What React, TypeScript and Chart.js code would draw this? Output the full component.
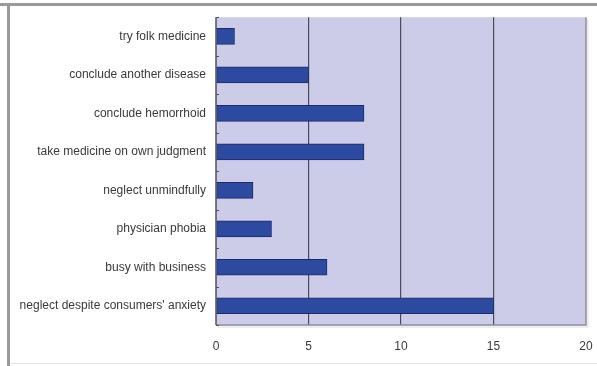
import React, { useEffect, useRef } from "react";
import { Chart, registerables } from "chart.js";

Chart.register(...registerables);

const reasons = [
  "try folk medicine",
  "conclude another disease",
  "conclude hemorrhoid",
  "take medicine on own judgment",
  "neglect unmindfully",
  "physician phobia",
  "busy with business",
  "neglect despite consumers' anxiety",
];
const counts = [1, 5, 8, 8, 2, 3, 6, 15];
const xTicks = [0, 5, 10, 15, 20];

const FONT = "'Liberation Sans', Arial, sans-serif";

// Draws the outer frame, the lavender plot panel with its shadowed edges,
// and small category tick marks along the value axis.
const framePlugin = {
  id: "frame",
  beforeDraw(chart: any) {
    const { ctx, chartArea: a, width, height } = chart;
    ctx.save();
    ctx.fillStyle = "#ffffff";
    ctx.fillRect(0, 0, width, height);
    // outer frame
    ctx.fillStyle = "#9a9a9a";
    ctx.fillRect(0, 3, width, 3);
    ctx.fillRect(7, 3, 3, height - 3);
    ctx.fillStyle = "#e2e2e2";
    ctx.fillRect(10, height - 3, width - 10, 1);
    // plot panel
    ctx.fillStyle = "#ccccE8";
    ctx.fillRect(a.left, a.top, a.right - a.left, a.bottom - a.top);
    ctx.restore();
  },
  afterDatasetsDraw(chart: any) {
    const { ctx, chartArea: a, scales } = chart;
    ctx.save();
    // shadowed right/bottom edges of the panel
    ctx.strokeStyle = "#8c8c9c";
    ctx.lineWidth = 1.5;
    ctx.beginPath();
    ctx.moveTo(a.right, a.top);
    ctx.lineTo(a.right, a.bottom);
    ctx.lineTo(a.left, a.bottom);
    ctx.stroke();
    ctx.strokeStyle = "#dcdce4";
    ctx.lineWidth = 1;
    ctx.beginPath();
    ctx.moveTo(a.right + 2, a.top + 2);
    ctx.lineTo(a.right + 2, a.bottom + 2);
    ctx.lineTo(a.left + 2, a.bottom + 2);
    ctx.stroke();
    // value axis line
    ctx.strokeStyle = "#505060";
    ctx.lineWidth = 1.5;
    ctx.beginPath();
    ctx.moveTo(a.left, a.top);
    ctx.lineTo(a.left, a.bottom);
    ctx.stroke();
    // category boundary ticks
    const y = scales.y;
    ctx.lineWidth = 1;
    for (let i = 0; i <= reasons.length; i++) {
      const py = Math.round(y.getPixelForValue(i - 0.5)) + 0.5;
      ctx.beginPath();
      ctx.moveTo(a.left, py);
      ctx.lineTo(a.left + 3, py);
      ctx.stroke();
    }
    ctx.restore();
  },
};

export default function App() {
  const ref = useRef<HTMLCanvasElement>(null);

  useEffect(() => {
    document.body.style.margin = "0";
    const chart = new Chart(ref.current as HTMLCanvasElement, {
      type: "bar",
      data: {
        labels: reasons,
        datasets: [
          {
            data: counts,
            backgroundColor: "#2c4ba0",
            borderColor: "#1a2a6a",
            borderWidth: 1,
            borderSkipped: false,
            barThickness: 16,
          },
        ],
      },
      options: {
        indexAxis: "y",
        animation: false,
        responsive: false,
        devicePixelRatio: 1,
        layout: { padding: { left: 0, right: 11, top: 15, bottom: 0 } },
        plugins: {
          legend: { display: false },
          tooltip: { enabled: false },
        },
        scales: {
          x: {
            min: 0,
            max: 20,
            afterBuildTicks(scale: any) {
              scale.ticks = xTicks.map((v) => ({ value: v }));
            },
            afterFit(scale: any) {
              scale.height = 41;
            },
            grid: {
              color: (c: any) =>
                c.tick && (c.tick.value === 0 || c.tick.value === 20)
                  ? "rgba(0,0,0,0)"
                  : "#4a4a5a",
              lineWidth: 1.2,
              drawTicks: true,
              tickLength: 14,
              tickColor: "rgba(0,0,0,0)",
            },
            border: { display: false },
            ticks: {
              padding: 0,
              color: "#3a3a3a",
              font: { family: FONT, size: 12 },
            },
          },
          y: {
            afterFit(scale: any) {
              scale.width = 216;
            },
            grid: { display: false, drawTicks: false },
            border: { display: false },
            ticks: {
              padding: 10,
              color: "#3a3a3a",
              font: { family: FONT, size: 12 },
            },
          },
        },
      },
      plugins: [framePlugin],
    });
    return () => chart.destroy();
  }, []);

  return (
    <div style={{ position: "fixed", left: 0, top: 0, width: 597, height: 366 }}>
      <canvas ref={ref} width={597} height={366} style={{ width: 597, height: 366 }} />
    </div>
  );
}
